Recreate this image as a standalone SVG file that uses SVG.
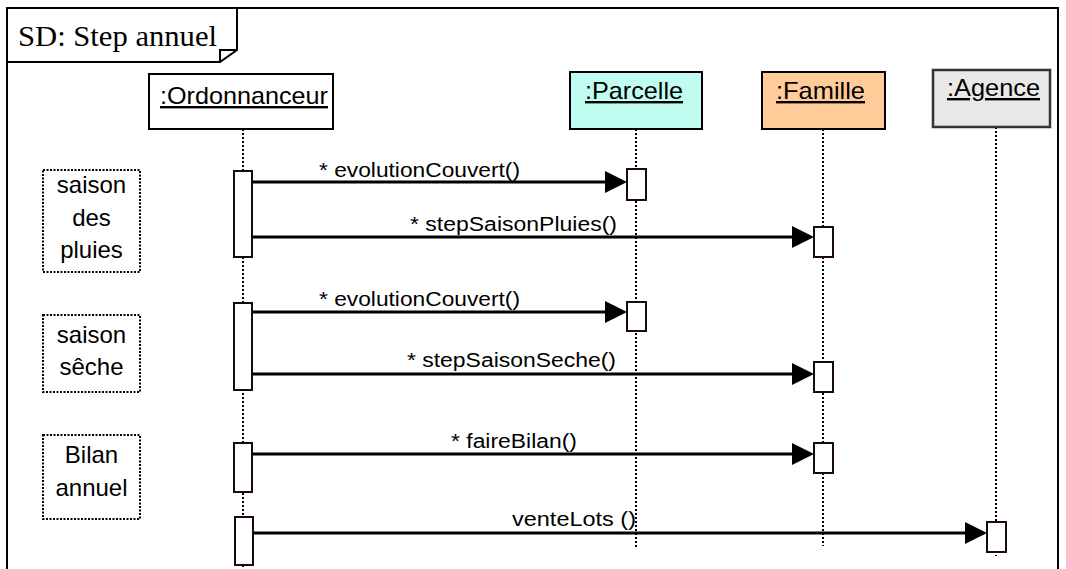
<svg xmlns="http://www.w3.org/2000/svg" width="1066" height="569" viewBox="0 0 1066 569">
<style>
.frame{fill:none;stroke:#000;stroke-width:2}
.hdr{stroke:#000;stroke-width:2}
.life{stroke:#000;stroke-width:2;stroke-dasharray:2 2;fill:none}
.act{fill:#fff;stroke:#1a0a0a;stroke-width:2}
.note{fill:#fff;stroke:#000;stroke-width:2;stroke-dasharray:2 1.5}
.msg{stroke:#000;stroke-width:3;fill:none;marker-end:url(#ah)}
.t{font-family:"Liberation Sans",Arial,sans-serif;fill:#000}
.hd{font-size:24px;text-decoration:underline}
.nt{font-size:24px;text-anchor:middle}
.ml{font-size:20px}
.title{font-family:"Liberation Serif","Times New Roman",serif;font-size:30px;fill:#000}
</style>
<defs>
<marker id="ah" markerWidth="22" markerHeight="22" refX="16" refY="11" orient="auto" markerUnits="userSpaceOnUse">
<path d="M0,0 L22,11 L0,22 z" fill="#000"/>
</marker>
</defs>
<rect width="1066" height="569" fill="#fff"/>
<g id="frame">
<rect class="frame" x="7" y="8" width="1051" height="600"/>
<path class="frame" d="M7,62 L220,62 L237,50 L237,8"/>
<path class="frame" d="M220,62 L220,50 L237,50"/>
<text class="title" x="18" y="46" textLength="199" lengthAdjust="spacingAndGlyphs">SD: Step annuel</text>
</g>
<g id="ordonnanceur">
<line class="life" x1="243" y1="129" x2="243" y2="569"/>
<rect class="hdr" x="149" y="74" width="184" height="55" fill="#fff"/>
<text class="t hd" x="160" y="104" textLength="168" lengthAdjust="spacingAndGlyphs">:Ordonnanceur</text>
<rect class="act" x="234" y="171" width="18" height="86"/>
<rect class="act" x="234" y="303" width="18" height="87"/>
<rect class="act" x="234" y="443" width="18" height="49"/>
<rect class="act" x="235" y="517" width="18" height="48"/>
</g>
<g id="parcelle">
<line class="life" x1="636" y1="129" x2="636" y2="548"/>
<rect class="hdr" x="570" y="72" width="132" height="57" fill="#C0FCF0"/>
<text class="t hd" x="585" y="99" textLength="98" lengthAdjust="spacingAndGlyphs">:Parcelle</text>
<rect class="act" x="627" y="169" width="19" height="31"/>
<rect class="act" x="627" y="302" width="19" height="29"/>
</g>
<g id="famille">
<line class="life" x1="823" y1="129" x2="823" y2="546"/>
<rect class="hdr" x="762" y="72" width="123" height="57" fill="#FFCC99"/>
<text class="t hd" x="776" y="99" textLength="89" lengthAdjust="spacingAndGlyphs">:Famille</text>
<rect class="act" x="814" y="227" width="19" height="30"/>
<rect class="act" x="814" y="362" width="19" height="30"/>
<rect class="act" x="814" y="443" width="19" height="30"/>
</g>
<g id="agence">
<line class="life" x1="996" y1="127" x2="996" y2="556"/>
<rect x="933" y="70" width="117" height="57" fill="#E8E8E8" stroke="#333" stroke-width="2.5"/>
<text class="t hd" x="947" y="96" textLength="93" lengthAdjust="spacingAndGlyphs">:Agence</text>
<rect class="act" x="987" y="522" width="19" height="30"/>
</g>
<g id="note-pluies">
<rect class="note" x="43" y="170" width="97" height="102"/>
<text class="t nt" x="91.5" y="193">saison</text>
<text class="t nt" x="91.5" y="226">des</text>
<text class="t nt" x="91.5" y="258">pluies</text>
</g>
<g id="note-seche">
<rect class="note" x="43" y="315" width="97" height="77"/>
<text class="t nt" x="91.5" y="343">saison</text>
<text class="t nt" x="91.5" y="375">sêche</text>
</g>
<g id="note-bilan">
<rect class="note" x="43" y="435" width="97" height="84"/>
<text class="t nt" x="91.5" y="463">Bilan</text>
<text class="t nt" x="91.5" y="496">annuel</text>
</g>
<g id="connectors">
<line class="msg" x1="252" y1="182" x2="621" y2="182"/>
<text class="t ml" x="319" y="177" textLength="201" lengthAdjust="spacingAndGlyphs">* evolutionCouvert()</text>
<line class="msg" x1="252" y1="237" x2="808" y2="237"/>
<text class="t ml" x="410" y="231" textLength="207" lengthAdjust="spacingAndGlyphs">* stepSaisonPluies()</text>
<line class="msg" x1="252" y1="312" x2="621" y2="312"/>
<text class="t ml" x="319" y="306" textLength="201" lengthAdjust="spacingAndGlyphs">* evolutionCouvert()</text>
<line class="msg" x1="252" y1="374" x2="808" y2="374"/>
<text class="t ml" x="407" y="367" textLength="209" lengthAdjust="spacingAndGlyphs">* stepSaisonSeche()</text>
<line class="msg" x1="252" y1="454" x2="808" y2="454"/>
<text class="t ml" x="451" y="448" textLength="126" lengthAdjust="spacingAndGlyphs">* faireBilan()</text>
<line class="msg" x1="253" y1="533" x2="981" y2="533"/>
<text class="t ml" x="512" y="526" textLength="124" lengthAdjust="spacingAndGlyphs">venteLots ()</text>
</g>
</svg>
